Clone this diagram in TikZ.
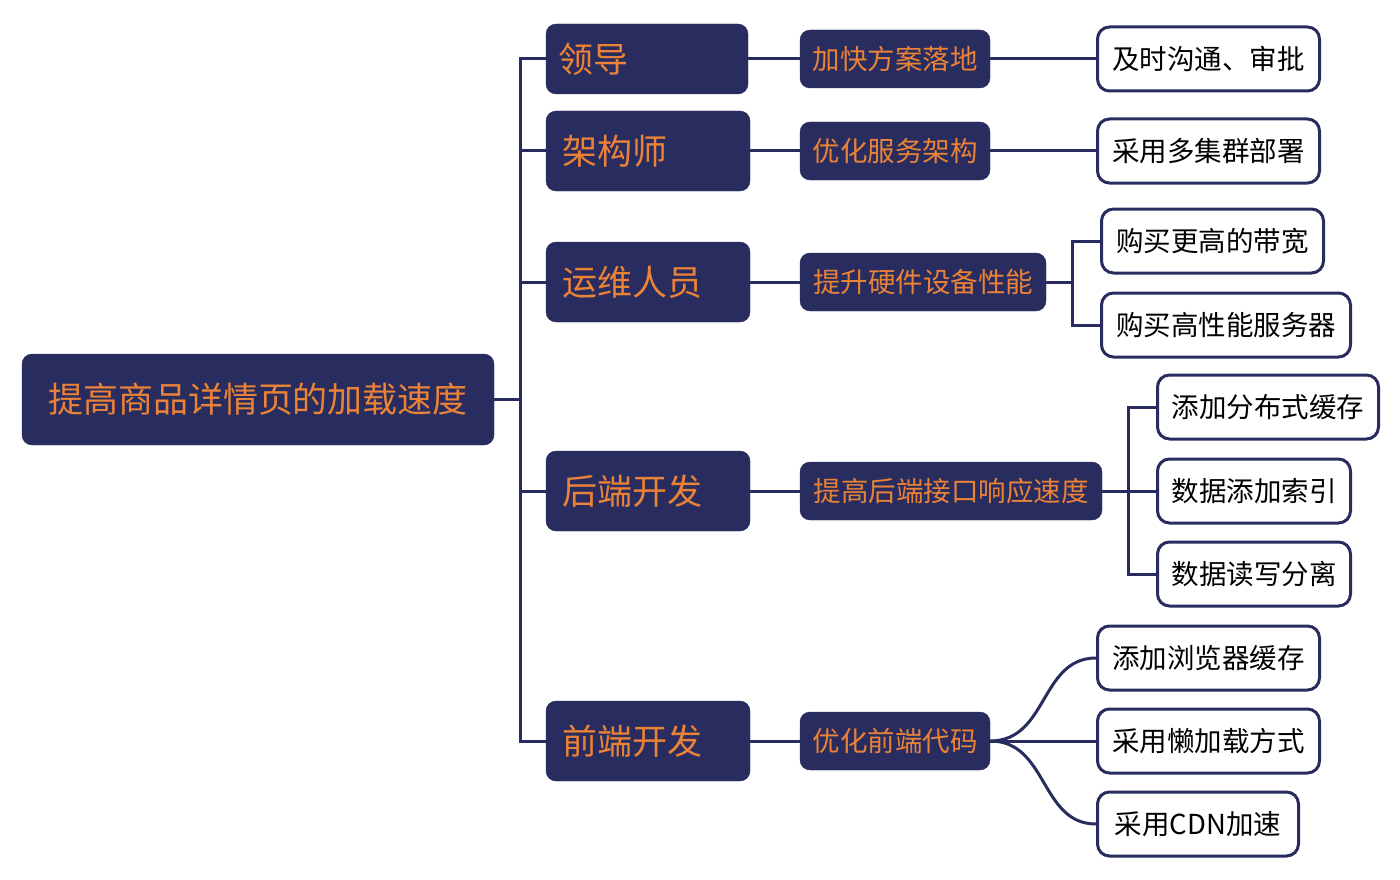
\documentclass[tikz,border=0pt]{standalone}
\usepackage{fontspec}
\setmainfont{Noto Sans CJK SC}
\definecolor{navy}{RGB}{41,44,94}
\definecolor{orng}{RGB}{234,130,56}
\begin{document}
\begin{tikzpicture}[x=1pt,y=-1pt,
  rootbox/.style={fill=navy,draw=navy,rounded corners=10pt,text=orng,font=\fontsize{35}{40}\selectfont,inner sep=0pt,minimum width=472pt,minimum height=91pt},
  lonebox/.style={fill=navy,draw=navy,rounded corners=10pt,text=orng,font=\fontsize{35}{40}\selectfont,inner ysep=0pt,align=left},
  ltwobox/.style={fill=navy,draw=navy,rounded corners=10pt,text=orng,font=\fontsize{27.5}{32}\selectfont,inner sep=0pt,minimum height=58pt},
  lthreebox/.style={fill=white,draw=navy,line width=3pt,rounded corners=12pt,text=black,font=\fontsize{27.5}{32}\selectfont,inner sep=0pt,minimum height=64pt},
  conn/.style={draw=navy,line width=3pt}]
\useasboundingbox (0,0) rectangle (1400,880);

\coordinate (t1) at (520,399.5);
\coordinate (t2) at (1072,282);
\coordinate (t3) at (1128,491);

% root
\node[rootbox] (root) at (258,399.5) {提高商品详情页的加载速度};

% level 1
\node[lonebox,minimum width=202pt,minimum height=70pt,inner xsep=12pt,text width=178pt] (lead) at (647,59) {领导};
\node[lonebox,minimum width=204pt,minimum height=80pt,inner xsep=16pt,text width=172pt] (arch) at (648,151) {架构师};
\node[lonebox,minimum width=204pt,minimum height=80pt,inner xsep=16pt,text width=172pt] (ops) at (648,282) {运维人员};
\node[lonebox,minimum width=204pt,minimum height=80pt,inner xsep=16pt,text width=172pt] (be) at (648,491) {后端开发};
\node[lonebox,minimum width=204pt,minimum height=80pt,inner xsep=16pt,text width=172pt] (fe) at (648,741) {前端开发};

% level 2
\node[ltwobox,minimum width=190pt] (lead2) at (895,59) {加快方案落地};
\node[ltwobox,minimum width=190pt] (arch2) at (895,151) {优化服务架构};
\node[ltwobox,minimum width=246pt] (ops2) at (923,282) {提升硬件设备性能};
\node[ltwobox,minimum width=302pt] (be2) at (951,491) {提高后端接口响应速度};
\node[ltwobox,minimum width=190pt] (fe2) at (895,741) {优化前端代码};

% level 3
\node[lthreebox,minimum width=222pt] (a1) at (1208.5,59) {及时沟通、审批};
\node[lthreebox,minimum width=222pt] (b1) at (1208.5,151) {采用多集群部署};
\node[lthreebox,minimum width=222pt] (c1) at (1212.5,241) {购买更高的带宽};
\node[lthreebox,minimum width=249pt] (c2) at (1226,325) {购买高性能服务器};
\node[lthreebox,minimum width=221pt] (d1) at (1268,407) {添加分布式缓存};
\node[lthreebox,minimum width=193pt] (d2) at (1254,491) {数据添加索引};
\node[lthreebox,minimum width=193pt] (d3) at (1254,574) {数据读写分离};
\node[lthreebox,minimum width=222pt] (e1) at (1208.5,658) {添加浏览器缓存};
\node[lthreebox,minimum width=222pt] (e2) at (1208.5,741) {采用懒加载方式};
\node[lthreebox,minimum width=201pt] (e3) at (1198,824) {采用CDN加速};

% trunk from root
\draw[conn] (root.east) -- (t1);
\draw[conn] (t1) |- (lead.west);
\draw[conn] (t1) |- (arch.west);
\draw[conn] (t1) |- (ops.west);
\draw[conn] (t1) |- (be.west);
\draw[conn] (t1) |- (fe.west);

% level1 to level2
\draw[conn] (lead.east) -- (lead2.west);
\draw[conn] (arch.east) -- (arch2.west);
\draw[conn] (ops.east) -- (ops2.west);
\draw[conn] (be.east) -- (be2.west);
\draw[conn] (fe.east) -- (fe2.west);

% level2 to level3
\draw[conn] (lead2.east) -- (a1.west);
\draw[conn] (arch2.east) -- (b1.west);
\draw[conn] (ops2.east) -- (t2);
\draw[conn] (t2) |- (c1.west);
\draw[conn] (t2) |- (c2.west);
\draw[conn] (be2.east) -- (t3);
\draw[conn] (t3) |- (d1.west);
\draw[conn] (t3) |- (d2.west);
\draw[conn] (t3) |- (d3.west);
\draw[conn] (fe2.east) .. controls (1048,741) and (1040,658) .. (e1.west);
\draw[conn] (fe2.east) -- (e2.west);
\draw[conn] (fe2.east) .. controls (1048,741) and (1040,824) .. (e3.west);
\end{tikzpicture}
\end{document}
